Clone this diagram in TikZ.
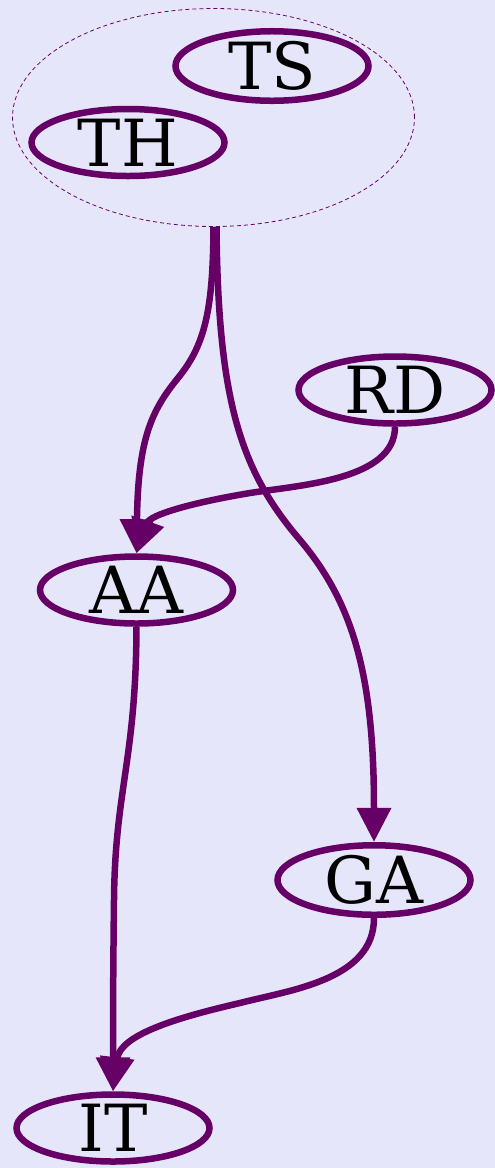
\documentclass[tikz,border=0pt]{standalone}
\usepackage{fontspec}
\setmainfont{DejaVu Serif}
\usetikzlibrary{shapes.geometric,arrows.meta}
\definecolor{plum}{HTML}{660066}
\definecolor{lavbg}{HTML}{E6E6FA}

\begin{document}
\begin{tikzpicture}[x=1pt, y=-1pt, purplenode/.style={ellipse, draw=plum, line width=6.5pt, minimum width=193pt, minimum height=67pt, inner sep=0pt, font=\fontsize{65}{65}\selectfont},
 clusternode/.style={ellipse, draw=plum, dash pattern=on 4pt off 3pt, line width=0.8pt, minimum width=402pt, minimum height=218pt},
 purpleedge/.style={draw=plum, line width=6.5pt, -{Triangle[length=34pt,width=33pt]}}, ]

                \fill[lavbg] (0,0) rectangle (495,1168);
                \useasboundingbox (0,0) rectangle (495,1168);

                \node[clusternode] (clu) at (213.5,117.5) {};
                \node[purplenode] (TS) at (272,66) {TS};
                \node[purplenode] (TH) at (128,142.5) {TH};
                \node[purplenode] (RD) at (395,390) {RD};
                \node[purplenode] (AA) at (136.5,590) {AA};
                \node[purplenode] (GA) at (374,880) {GA};
                \node[purplenode] (IT) at (113,1128) {IT};

                \draw[purpleedge] (clu.south) .. controls (213,310) and (205,345) .. (178,378)
                                  .. controls (151,411) and (138,440) .. (AA.north);
                \draw[purpleedge] ([xshift=3pt]clu.south) .. controls (218,400) and (240,470) .. (300,540)
                                  .. controls (355,605) and (374,680) .. (GA.north);
                \draw[purpleedge] (RD.south) .. controls (395,480) and (300,485) .. (250,493)
                                  .. controls (190,503) and (150,515) .. (AA.north);
                \draw[purpleedge] (AA.south) .. controls (136,760) and (115,790) .. (114,900)
                                  .. controls (113,980) and (113,1030) .. (IT.north);
                \draw[purpleedge] (GA.south) .. controls (374,980) and (290,990) .. (240,1003)
                                  .. controls (175,1018) and (120,1035) .. (IT.north);
\end{tikzpicture}
\end{document}
